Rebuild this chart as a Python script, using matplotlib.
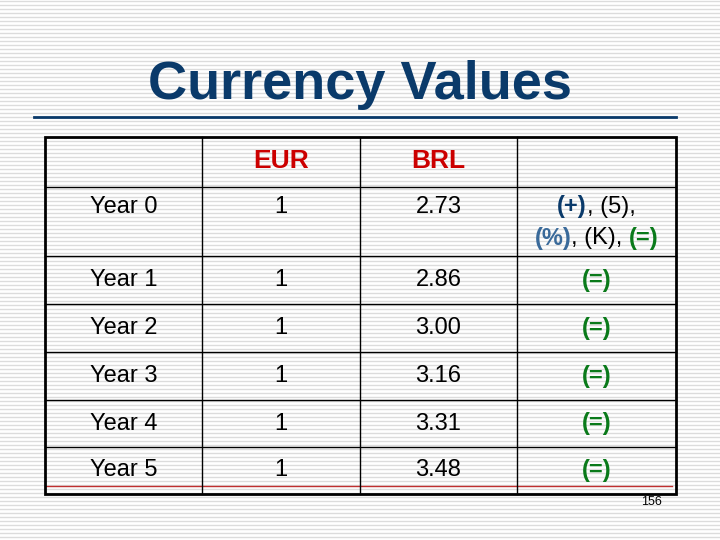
import matplotlib
matplotlib.use("Agg")
import matplotlib.pyplot as plt

title = "Currency Values"
headers = ["", "EUR", "BRL", ""]
years = ["Year 0", "Year 1", "Year 2", "Year 3", "Year 4", "Year 5"]
eur = ["1", "1", "1", "1", "1", "1"]
brl = ["2.73", "2.86", "3.00", "3.16", "3.31", "3.48"]
notes = ["", "(=)", "(=)", "(=)", "(=)", "(=)"]
page = "156"

plt.rcParams['font.family'] = ['Liberation Sans', 'DejaVu Sans']
fig = plt.figure(figsize=(7.2, 5.4), dpi=100)
ax = fig.add_axes([0, 0, 1, 1])
ax.set_xlim(0, 720); ax.set_ylim(540, 0); ax.axis('off')

for y in range(1, 540, 4):
    ax.axhline(y, color='#dcdcdc', lw=1.0, zorder=0)

navy = '#0a3a6a'
ax.text(360, 85, title, ha='center', va='center', fontsize=39, color=navy,
        fontweight='bold')
ax.plot([34, 676], [117, 117], color=navy, lw=2)

cols = [45, 202, 360, 517, 676]
rows = [137, 187, 256, 304, 352, 400, 447, 494]
ax.plot([45, 672], [486, 486], color='#c03030', lw=1, zorder=2)
for x in cols[1:-1]:
    ax.plot([x, x], [rows[0], rows[-1]], color='black', lw=1, zorder=3)
for y in rows[1:-1]:
    ax.plot([cols[0], cols[-1]], [y, y], color='black', lw=1, zorder=3)
ax.add_patch(plt.Rectangle((cols[0], rows[0]), cols[-1]-cols[0], rows[-1]-rows[0],
                           fill=False, ec='black', lw=2, zorder=4))

centers = [(cols[i] + cols[i+1]) / 2 for i in range(4)]
red = '#cc0000'
for i, h in enumerate(headers):
    if h:
        ax.text(centers[i], 161, h, ha='center', va='center', fontsize=19,
                color=red, fontweight='bold')

fs = 17
green = '#0a7a1a'
for r in range(len(years)):
    yc = 207 if r == 0 else (rows[r+1] + rows[r+2]) / 2
    ax.text(centers[0], yc, years[r], ha='center', va='center', fontsize=fs)
    ax.text(centers[1], yc, eur[r], ha='center', va='center', fontsize=fs)
    ax.text(centers[2], yc, brl[r], ha='center', va='center', fontsize=fs)
    if notes[r]:
        ax.text(centers[3], yc, notes[r], ha='center', va='center', fontsize=fs,
                color=green, fontweight='bold')

r = fig.canvas.get_renderer()

def width(parts):
    w = 0
    for s, c, b in parts:
        t = ax.text(0, 0, s, fontsize=fs, fontweight='bold' if b else 'normal')
        w += t.get_window_extent(renderer=r).width
        t.remove()
    return w

def seq(x0, y, parts):
    x = x0
    for s, c, b in parts:
        t = ax.text(x, y, s, ha='left', va='center', fontsize=fs, color=c,
                    fontweight='bold' if b else 'normal')
        x += t.get_window_extent(renderer=r).width

line1 = [("(+)", navy, True), (", (5),", 'black', False)]
line2 = [("(%)", '#3a6a9a', True), (", (K), ", 'black', False), ("(=)", green, True)]
seq(centers[3] - width(line1) / 2, 207, line1)
seq(centers[3] - width(line2) / 2, 238, line2)

ax.text(651, 502, page, ha='center', va='center', fontsize=9)

fig.savefig("out.png", dpi=100)
